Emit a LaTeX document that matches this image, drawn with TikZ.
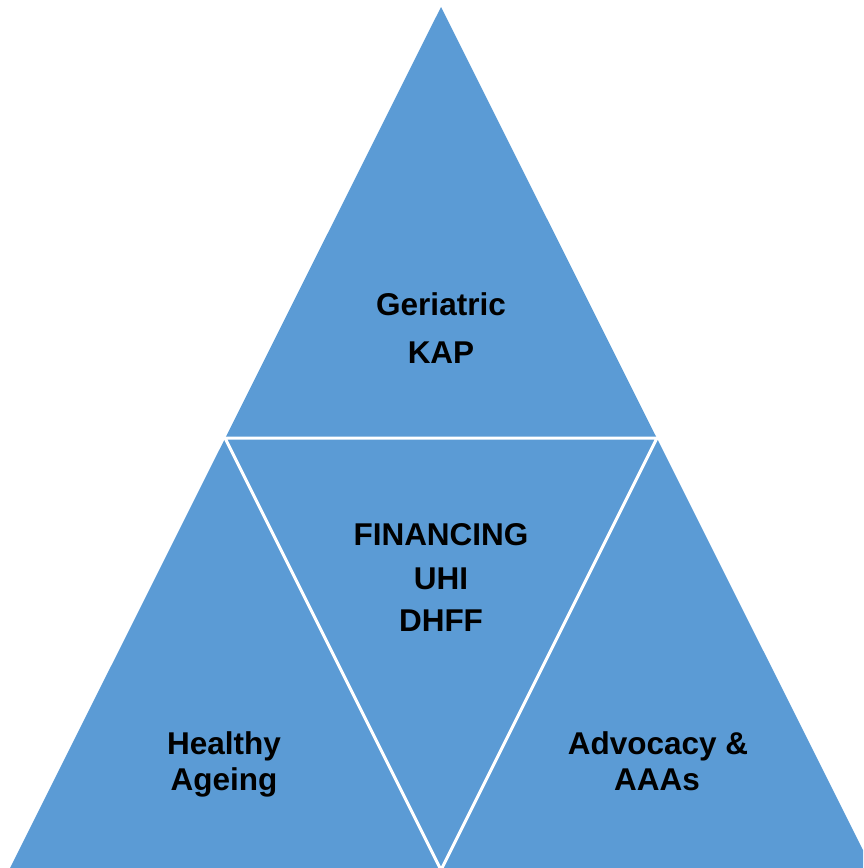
\documentclass[tikz,border=0pt]{standalone}
\usepackage{fontspec}
\setmainfont{Liberation Sans}
\definecolor{tribue}{HTML}{5B9BD5}
\begin{document}
\begin{tikzpicture}[x=1pt,y=-1pt,
  divider/.style={draw=white,line width=3pt,line join=miter},
  lbl/.style={anchor=base,inner sep=0pt,font=\fontsize{31.5}{36}\selectfont\bfseries,text=black}]
\useasboundingbox (0,0) rectangle (863,868);
\clip (0,0) rectangle (863,868);
% corner points of the pyramid (base runs just past the lower edge)
\coordinate (apex) at (441,7);
\coordinate (midL) at (225,438);
\coordinate (midR) at (657,438);
\coordinate (botL) at (8,872);
\coordinate (botM) at (441,870);
\coordinate (botR) at (874,872);
% the pyramid, cut into four triangles by white dividers
\fill[tribue] (apex) -- (botL) -- (botR) -- cycle;
\draw[divider] (midL) -- (midR) -- (botM) -- cycle;
% labels
\node[lbl] (t1) at (441,315) {Geriatric};
\node[lbl] (t2) at (441,363) {KAP};
\node[lbl] (m1) at (441,545) {FINANCING};
\node[lbl] (m2) at (441,589) {UHI};
\node[lbl] (m3) at (441,631) {DHFF};
\node[lbl] (l1) at (224,754) {Healthy};
\node[lbl] (l2) at (224,790) {Ageing};
\node[lbl] (r1) at (658,754) {Advocacy \&};
\node[lbl] (r2) at (657,790) {AAAs};
\end{tikzpicture}
\end{document}
